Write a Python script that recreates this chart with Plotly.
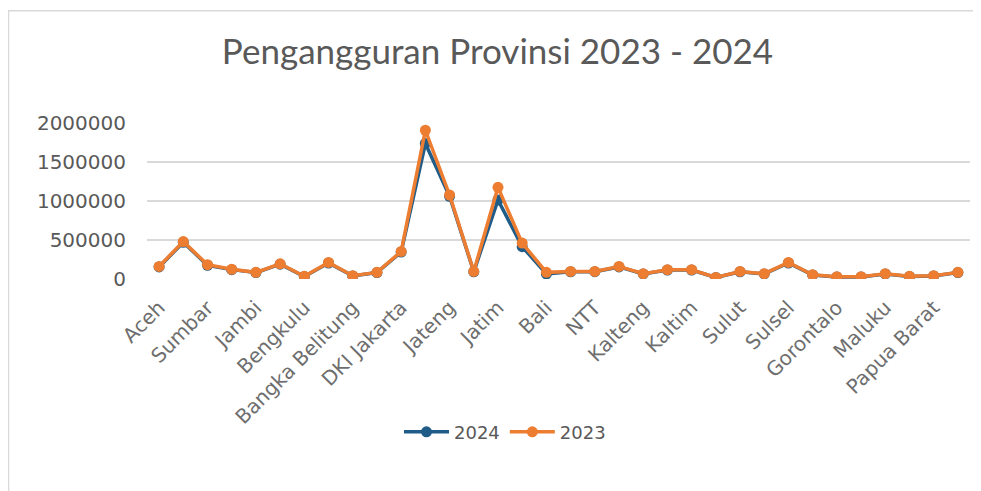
import plotly.graph_objects as go

provinces = ["Aceh", "Sumut", "Sumbar", "Riau", "Jambi", "Sumsel", "Bengkulu", "Lampung",
             "Bangka Belitung", "Kepri", "DKI Jakarta", "Jabar", "Jateng", "DIY", "Jatim",
             "Banten", "Bali", "NTB", "NTT", "Kalbar", "Kalteng", "Kalsel", "Kaltim", "Kaltara",
             "Sulut", "Sulteng", "Sulsel", "Sultra", "Gorontalo", "Sulbar", "Maluku", "Malut",
             "Papua Barat", "Papua"]

val_2023 = [161000, 480000, 183000, 125000, 85000, 195000, 34000, 212000,
            42000, 85000, 353000, 1907000, 1077000, 97000, 1175000,
            460000, 85000, 97000, 97000, 161000, 68000, 119000, 119000, 20000,
            97000, 68000, 212000, 55000, 29000, 29000, 68000, 34000,
            42000, 85000]

val_2024 = [155000, 470000, 175000, 120000, 82000, 190000, 32000, 205000,
            40000, 82000, 345000, 1737000, 1060000, 92000, 1013000,
            415000, 65000, 93000, 94000, 155000, 65000, 115000, 115000, 19000,
            93000, 65000, 205000, 52000, 27000, 27000, 65000, 32000,
            40000, 82000]

y_ticks = [0, 500000, 1000000, 1500000, 2000000]
x_ticks = provinces[::2]

TEXT = "#595959"
FONT = "DejaVu Sans, Verdana, sans-serif"

# page has an 8px body margin; figure coordinates are page coordinates minus 8
W, H = 973, 483
L, R, T, B = 139, 962, 114.7, 271.3
PW, PH = R - L, B - T

fig = go.Figure()
fig.add_trace(go.Scatter(x=provinces, y=val_2024, name="2024", mode="lines+markers",
                         line=dict(color="#1F5C87", width=3.5),
                         marker=dict(color="#1F5C87", size=11)))
fig.add_trace(go.Scatter(x=provinces, y=val_2023, name="2023", mode="lines+markers",
                         line=dict(color="#ED7D31", width=3.5),
                         marker=dict(color="#ED7D31", size=11)))

fig.update_layout(
    width=W, height=H,
    margin=dict(l=L, r=W - R, t=T, b=H - B, autoexpand=False),
    paper_bgcolor="white", plot_bgcolor="white",
    title=dict(text="Pengangguran Provinsi 2023 - 2024",
               x=489.5 / W, xref="container", xanchor="center",
               y=1 - 44 / H, yref="container", yanchor="middle",
               font=dict(family="Lato, Open Sans, sans-serif", size=35, color=TEXT)),
    showlegend=True,
    legend=dict(orientation="h", x=(497 - L) / PW, xanchor="center",
                y=(B - 425) / PH, yanchor="middle", font=dict(family=FONT, size=18, color=TEXT),
                traceorder="normal", itemwidth=45),
    xaxis=dict(type="category", range=[-0.5, len(provinces) - 0.5], tickmode="array",
               tickvals=x_ticks, ticktext=x_ticks, tickangle=-45, showgrid=False,
               showline=False, zeroline=False, ticks="", automargin=False,
               ticklabelstandoff=12,
               tickfont=dict(family=FONT, size=20, color="#6E6E6E")),
    yaxis=dict(range=[0, 2000000], tickmode="array", tickvals=y_ticks,
               ticktext=[str(v) for v in y_ticks], showgrid=True, gridcolor="#D9D9D9",
               gridwidth=1.5, zeroline=False, showline=False, ticks="", automargin=False,
               ticklabelstandoff=20,
               tickfont=dict(family=FONT, size=20, color=TEXT)),
    shapes=[dict(type="rect", xref="paper", yref="paper",
                 x0=(0.5 - L) / PW, x1=(1000 - L) / PW,
                 y0=(B - 600) / PH, y1=(B - 2) / PH,
                 line=dict(color="#D9D9D9", width=1.5), fillcolor="rgba(0,0,0,0)",
                 layer="below")],
)

fig.write_html("out.html")
